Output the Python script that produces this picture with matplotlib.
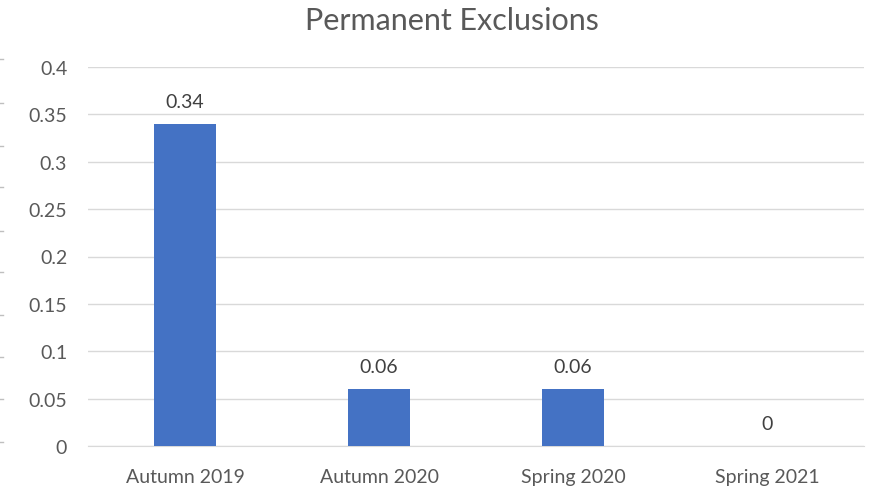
import matplotlib
matplotlib.use("Agg")
import matplotlib.pyplot as plt
from matplotlib.lines import Line2D

categories = ["Autumn 2019", "Autumn 2020", "Spring 2020", "Spring 2021"]
values = [0.34, 0.06, 0.06, 0]
labels = ["0.34", "0.06", "0.06", "0"]
yticks = [0, 0.05, 0.1, 0.15, 0.2, 0.25, 0.3, 0.35, 0.4]
ytick_labels = ["0", "0.05", "0.1", "0.15", "0.2", "0.25", "0.3", "0.35", "0.4"]

plt.rcParams["font.family"] = ["Lato", "DejaVu Sans"]
W, H = 871, 489
fig = plt.figure(figsize=(W / 100, H / 100), dpi=100)
ax = fig.add_axes([88 / W, 1 - 447 / H, (864 - 88) / W, (447 - 68) / H])

x = range(len(categories))
ax.bar(x, values, width=0.32, color="#4472C4", zorder=3)
for xi, v, lab in zip(x, values, labels):
    ax.annotate(lab, (xi, v), xytext=(0, 10), textcoords="offset points",
                ha="center", va="bottom", fontsize=14, color="#404040")

ax.set_xlim(-0.5, len(categories) - 0.5)
ax.set_ylim(0, 0.4)
ax.set_yticks(yticks)
ax.set_yticklabels(ytick_labels)
ax.set_xticks(list(x))
ax.set_xticklabels(categories)
ax.tick_params(axis="both", length=0, labelsize=14, labelcolor="#595959")
ax.tick_params(axis="y", pad=15)
ax.tick_params(axis="x", pad=16)
ax.grid(axis="y", color="#D9D9D9", linewidth=1, zorder=0)
for s in ["top", "right", "left"]:
    ax.spines[s].set_visible(False)
ax.spines["bottom"].set_color("#D9D9D9")

fig.text(452 / W, 1 - 21 / H, "Permanent Exclusions", ha="center", va="center",
         fontsize=22, color="#595959")

# stray tick marks at the left edge of the crop
for yy in [60, 104, 147, 188, 232, 273, 316, 358, 400, 443]:
    fig.add_artist(Line2D([0, 3 / W], [1 - yy / H] * 2, color="#BFBFBF", lw=1))

fig.savefig("out.png", dpi=100)
